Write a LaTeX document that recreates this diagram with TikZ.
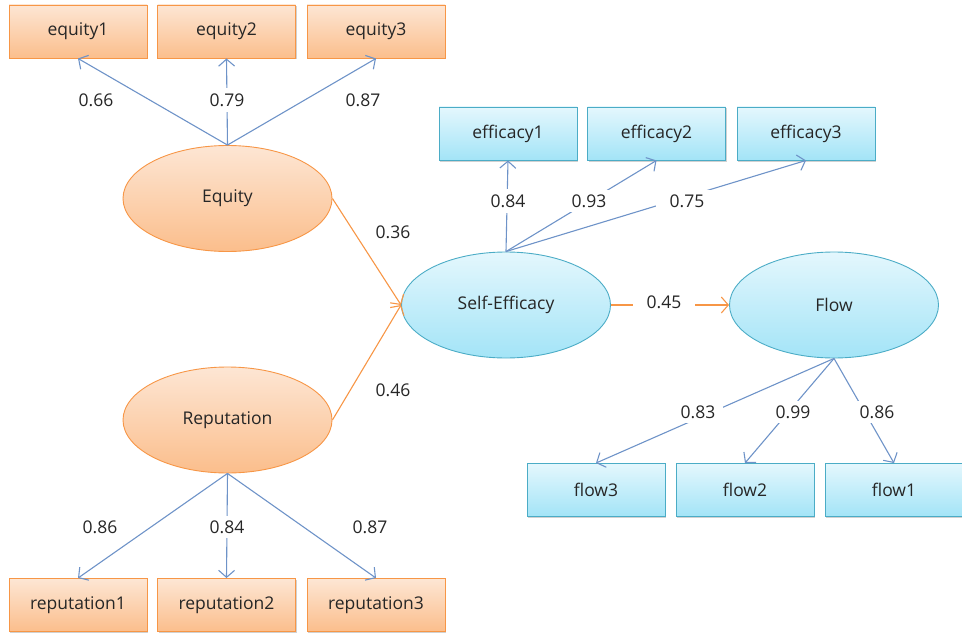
\documentclass[tikz,border=0pt]{standalone}
\usepackage{fontspec}
\setmainfont{Open Sans}
\usetikzlibrary{arrows.meta,shapes.geometric,shadows}
\definecolor{orbd}{HTML}{F79646}
\definecolor{ortop}{HTML}{FDE6D4}
\definecolor{orbot}{HTML}{FBBE8C}
\definecolor{blbd}{HTML}{4BACC6}
\definecolor{bltop}{HTML}{E4F7FD}
\definecolor{blbot}{HTML}{A3E4F7}
\definecolor{lnblue}{HTML}{6E93C8}
\definecolor{txt}{HTML}{262626}
\tikzset{
  every node/.style={font=\fontsize{17.5}{19}\selectfont, text=txt},
  obox/.style={rectangle, draw=orbd, line width=0.9pt, top color=ortop, bottom color=orbot,
    minimum width=138pt, minimum height=53pt, inner sep=0pt,
    drop shadow={shadow xshift=1pt, shadow yshift=-1.5pt, fill=black, opacity=0.18}},
  bbox/.style={rectangle, draw=blbd, line width=0.9pt, top color=bltop, bottom color=blbot,
    minimum width=138pt, minimum height=53pt, inner sep=0pt,
    drop shadow={shadow xshift=1pt, shadow yshift=-1.5pt, fill=black, opacity=0.18}},
  oell/.style={ellipse, draw=orbd, line width=0.9pt, top color=ortop, bottom color=orbot,
    minimum width=209pt, minimum height=106pt, inner sep=0pt},
  bell/.style={ellipse, draw=blbd, line width=0.9pt, top color=bltop, bottom color=blbot,
    minimum width=209pt, minimum height=106pt, inner sep=0pt},
  bline/.style={draw=lnblue, line width=1.1pt, -{Straight Barb[length=7pt,width=16pt]}},
  oline/.style={draw=orbd, line width=1.1pt, -{Straight Barb[length=7pt,width=16pt]}},
  lbl/.style={fill=white, inner sep=1.5pt}
}
\begin{document}
\begin{tikzpicture}[x=1pt,y=-1pt]
\useasboundingbox (0,0) rectangle (962,634);
% observed boxes
\node[obox] (e1) at (78,31.5) {equity1};
\node[obox] (e2) at (226.5,31.5) {equity2};
\node[obox] (e3) at (376,31.5) {equity3};
\node[obox] (r1) at (78,605) {reputation1};
\node[obox] (r2) at (226.5,605) {reputation2};
\node[obox] (r3) at (376,605) {reputation3};
\node[bbox] (s1) at (508,133.5) {efficacy1};
\node[bbox] (s2) at (656.5,133.5) {efficacy2};
\node[bbox] (s3) at (806,133.5) {efficacy3};
\node[bbox] (f3) at (596,490) {flow3};
\node[bbox] (f2) at (745,490) {flow2};
\node[bbox] (f1) at (894,490) {flow1};
% latent
\node[oell] (EQ) at (227.5,198.5) {Equity};
\node[oell] (RE) at (227.5,420) {Reputation};
\node[bell] (SE) at (506,305) {Self-Efficacy};
\node[bell] (FL) at (834,305) {Flow};
% loadings
\draw[bline] (EQ.north) -- (e1.south);
\draw[bline] (EQ.north) -- (e2.south);
\draw[bline] (EQ.north) -- (e3.south);
\draw[bline] (RE.south) -- (r1.north);
\draw[bline] (RE.south) -- (r2.north);
\draw[bline] (RE.south) -- (r3.north);
\draw[bline] (SE.north) -- (s1.south);
\draw[bline] (SE.north) -- (s2.south);
\draw[bline] (SE.north) -- (s3.south);
\draw[bline] (FL.south) -- (f3.north);
\draw[bline] (FL.south) -- (f2.north);
\draw[bline] (FL.south) -- (f1.north);
% structural
\draw[oline] (EQ.east) -- (SE.west);
\draw[oline] (RE.east) -- (SE.west);
\draw[oline] (SE.east) -- (FL.west);
% labels
\node[lbl] (l1) at (96,100) {0.66};
\node[lbl, inner ysep=6pt] (l2) at (227,100) {0.79};
\node[lbl] (l3) at (363,100) {0.87};
\node[lbl] (l4) at (393,232) {0.36};
\node[lbl] (l5) at (393,390) {0.46};
\node[lbl, inner ysep=6pt] (l6) at (508,201) {0.84};
\node[lbl, inner xsep=8pt, inner ysep=5pt] (l7) at (589,201) {0.93};
\node[lbl, inner xsep=14pt, inner ysep=5pt] (l8) at (687,201) {0.75};
\node[lbl, inner xsep=14pt] (l9) at (664,302) {0.45};
\node[lbl, inner xsep=8pt, inner ysep=5pt] (l10) at (698,412) {0.83};
\node[lbl, inner xsep=6pt, inner ysep=5pt] (l11) at (793,412) {0.99};
\node[lbl, inner xsep=6pt, inner ysep=5pt] (l12) at (877,412) {0.86};
\node[lbl] (l13) at (100,527) {0.86};
\node[lbl, inner ysep=5pt] (l14) at (227,527) {0.84};
\node[lbl] (l15) at (370,527) {0.87};
\end{tikzpicture}
\end{document}
